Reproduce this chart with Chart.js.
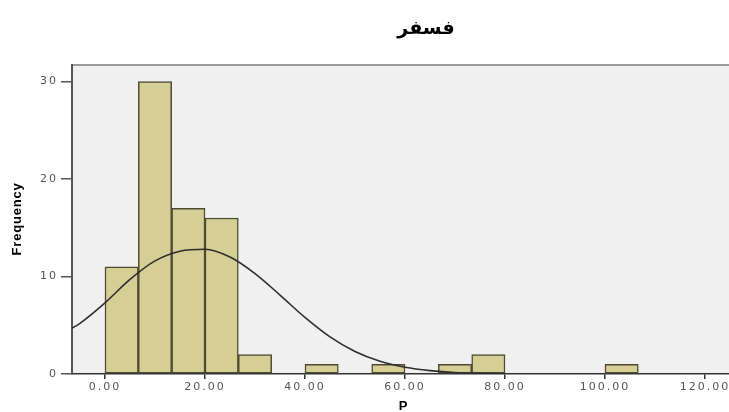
<!DOCTYPE html>
<html>
<head>
<meta charset="utf-8">
<script src="https://cdn.jsdelivr.net/npm/chart.js@4/dist/chart.umd.min.js"></script>
<style>
body{margin:0;background:#fff;overflow:hidden}
</style>
</head>
<body>
<canvas id="histChart" width="729" height="412"></canvas>
<script>
// data (bin width 6.67)
var chartTitle = "فسفر";
var xTitle = "P";
var yTitle = "Frequency";
var binCenters = [3.33, 10, 16.67, 23.33, 30, 36.67, 43.33, 50, 56.67, 63.33, 70, 76.67, 83.33, 90, 96.67, 103.33];
var binCounts = [11, 30, 17, 16, 2, 0, 1, 0, 1, 0, 1, 2, 0, 0, 0, 1];
// normal curve, points
var curveX = [-6.6, -5, 0, 5, 10, 15, 20, 25, 30, 35, 40, 45, 50, 55, 60, 65, 70, 75, 80];
var curveY = [4.7, 5.2, 7.3, 9.7, 11.6, 12.6, 12.8, 12.0, 10.3, 8.1, 5.8, 3.8, 2.3, 1.3, 0.7, 0.35, 0.15, 0.07, 0.03];
var xTicks = [0, 20, 40, 60, 80, 100, 120];
var yTicks = [0, 10, 20, 30];

var tickFont = {family: "DejaVu Sans", size: 11};

//paint the grey plot area and the extra labels
var framePlugin = {
	id: 'frame',
	beforeDraw: function(chart){
		var a = chart.chartArea, ctx = chart.ctx;
		ctx.save();
		ctx.fillStyle = '#f0f0f0';
		ctx.fillRect(a.left, a.top, a.right - a.left, a.bottom - a.top);
		ctx.strokeStyle = '#7a7a7a';
		ctx.lineWidth = 1.5;
		ctx.beginPath();
		ctx.moveTo(a.left, a.top);
		ctx.lineTo(a.right, a.top);
		ctx.stroke();
		ctx.restore();
		ctx.letterSpacing = '2px'; // tick labels look spread out
	},
	afterDatasetsDraw: function(chart){
		chart.ctx.letterSpacing = '0px';
	},
	afterDraw: function(chart){
		var ctx = chart.ctx;
		ctx.save();
		ctx.letterSpacing = '0px';
		ctx.fillStyle = '#000';
		ctx.textAlign = 'center';
		ctx.textBaseline = 'middle';
		ctx.font = 'bold 19px "DejaVu Sans"';
		ctx.fillText(chartTitle, 426, 29);
		ctx.font = 'bold 13px "Liberation Sans"';
		ctx.fillText(xTitle, 403, 406);
		ctx.translate(17, 219);
		ctx.rotate(-Math.PI / 2);
		ctx.letterSpacing = '0.8px';
		ctx.fillText(yTitle, 0, 0);
		ctx.restore();
	}
};

var bars = binCenters.map(function(x, i){ return {x: x, y: binCounts[i]}; });
var curve = curveX.map(function(x, i){ return {x: x, y: curveY[i]}; });

new Chart("histChart", {
	type: 'bar',
	data: {
		datasets: [{
			type: 'line',
			data: curve,
			borderColor: '#2e2e2e',
			borderWidth: 1.6,
			pointRadius: 0,
			fill: false,
			cubicInterpolationMode: 'monotone',
			order: 1
		}, {
			data: bars,
			backgroundColor: '#d5cf95',
			borderColor: '#4e4a32',
			borderWidth: 1.5,
			borderSkipped: false,
			barPercentage: 1,
			categoryPercentage: 1,
			order: 2
		}]
	},
	options: {
		responsive: false,
		animation: false,
		layout: {padding: {top: 65, left: 0, right: 0, bottom: 0}},
		plugins: {
			legend: {display: false},
			tooltip: {enabled: false}
		},
		scales: {
			x: {
				type: 'linear',
				min: -6.6,
				max: 124.8,
				offset: false,
				grid: {offset: false, drawOnChartArea: false, drawTicks: true, tickLength: 5, color: '#333', lineWidth: 1.5},
				border: {color: '#333', width: 1.5},
				ticks: {
					color: '#555',
					font: tickFont,
					padding: 2,
					maxRotation: 0,
					autoSkip: false,
					callback: function(v){ return v.toFixed(2); }
				},
				afterBuildTicks: function(scale){
					scale.ticks = xTicks.map(function(v){ return {value: v}; });
				},
				afterFit: function(scale){
					scale.height = 38;
					scale.paddingLeft = 0;
					scale.paddingRight = 0;
				}
			},
			y: {
				min: 0,
				max: 31.7,
				grid: {drawOnChartArea: false, drawTicks: true, tickLength: 11, color: '#555', lineWidth: 1.5},
				border: {color: '#555', width: 2},
				ticks: {
					color: '#555',
					font: tickFont,
					padding: 3
				},
				afterBuildTicks: function(scale){
					scale.ticks = yTicks.map(function(v){ return {value: v}; });
				},
				afterFit: function(scale){
					scale.width = 72;
					scale.paddingTop = 0;
					scale.paddingBottom = 0;
				}
			}
		}
	},
	plugins: [framePlugin]
});
</script>
</body>
</html>
